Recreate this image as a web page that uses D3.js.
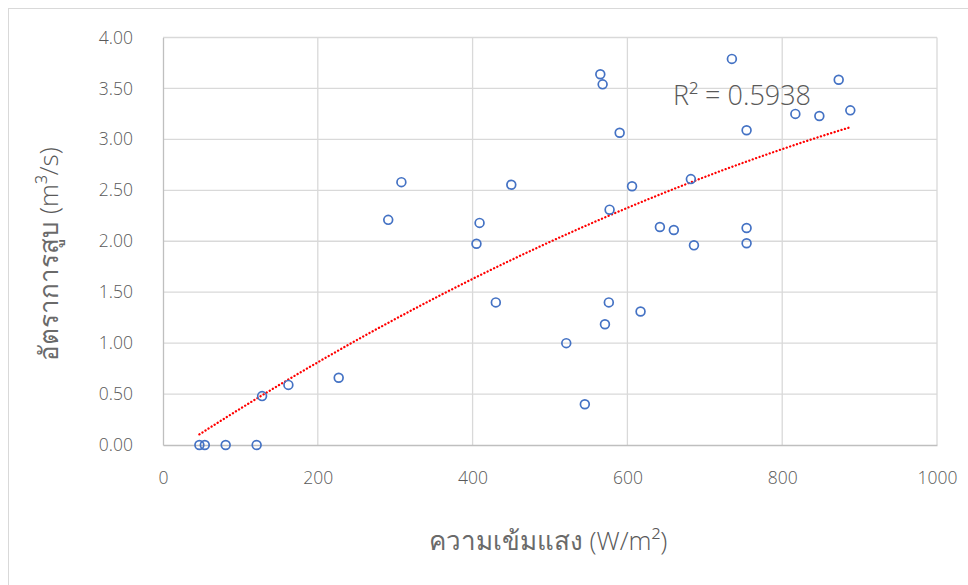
<!DOCTYPE html>
<html>
<head>
<meta charset="utf-8">
<script src="https://cdn.jsdelivr.net/npm/d3@7"></script>
<style>
  body { margin: 0; background: #fff; }
  text { font-family: "Open Sans", "Noto Sans", sans-serif; }
</style>
</head>
<body>
<div id="chart"></div>
<script>
// light intensity (W/m2) vs pumping rate (m3/s)
var intensity = [47, 54, 81, 121, 128, 162, 227, 291, 308, 405, 409, 430, 450,
    521, 545, 565, 568, 571, 576, 577, 590, 606, 617, 642, 660, 682, 686,
    735, 754, 754, 754, 817, 848, 873, 888];
var pumpRate = [0, 0, 0, 0, 0.48, 0.59, 0.66, 2.21, 2.58, 1.975, 2.18, 1.40, 2.555,
    1.00, 0.40, 3.64, 3.54, 1.185, 1.40, 2.31, 3.065, 2.54, 1.31, 2.14, 2.11, 2.61, 1.96,
    3.79, 3.09, 2.13, 1.98, 3.25, 3.23, 3.585, 3.285];

var xTicks = [0, 200, 400, 600, 800, 1000];
var yTicks = [0, 0.5, 1, 1.5, 2, 2.5, 3, 3.5, 4];
var r2Label = "R² = 0.5938";

var data = intensity.map((d, i) => ({ x: d, y: pumpRate[i] }));

var W = 968, H = 585;
var plot = { left: 163, top: 37.5, right: 937, bottom: 445 };

var svg = d3.select("#chart").append("svg")
    .attr("width", W)
    .attr("height", H);

// chart area border
svg.append("rect")
    .attr("x", 8.5).attr("y", 8.5)
    .attr("width", W + 20).attr("height", H + 20)
    .attr("fill", "#fff")
    .attr("stroke", "#d9d9d9");

var x = d3.scaleLinear().domain([0, 1000]).range([plot.left, plot.right]);
var y = d3.scaleLinear().domain([0, 4]).range([plot.bottom, plot.top]);

// gridlines
svg.append("g")
    .selectAll("line")
    .data(yTicks.slice(1))
    .enter()
    .append("line")
    .attr("x1", plot.left).attr("x2", plot.right)
    .attr("y1", d => y(d)).attr("y2", d => y(d))
    .attr("stroke", "#d9d9d9").attr("stroke-width", 1.3);

svg.append("g")
    .selectAll("line")
    .data(xTicks.slice(1))
    .enter()
    .append("line")
    .attr("x1", d => x(d)).attr("x2", d => x(d))
    .attr("y1", plot.top).attr("y2", plot.bottom)
    .attr("stroke", "#d9d9d9").attr("stroke-width", 1.3);

// axes
var xAxis = svg.append("g")
    .attr("transform", "translate(0," + plot.bottom + ")")
    .call(d3.axisBottom(x).tickValues(xTicks).tickSize(0).tickPadding(27).tickFormat(d3.format("d")));
var yAxis = svg.append("g")
    .attr("transform", "translate(" + plot.left + ",0)")
    .call(d3.axisLeft(y).tickValues(yTicks).tickSize(0).tickPadding(30).tickFormat(d3.format(".2f")));

[xAxis, yAxis].forEach(function (g) {
    g.select(".domain").attr("stroke", "#bfbfbf").attr("stroke-width", 1.3);
    g.selectAll(".tick text")
        .attr("fill", "#595959")
        .style("font-size", "17.5px")
        .style("font-family", "'Open Sans', sans-serif")
        .style("font-weight", 300);
});

// quadratic trendline, least squares on the data
function polyFit(pts) {
    var s = [0, 0, 0, 0, 0], t = [0, 0, 0];
    pts.forEach(function (p) {
        var xp = 1;
        for (var k = 0; k < 5; k++) { s[k] += xp; if (k < 3) t[k] += xp * p.y; xp *= p.x; }
    });
    var A = [[s[0], s[1], s[2], t[0]], [s[1], s[2], s[3], t[1]], [s[2], s[3], s[4], t[2]]];
    for (var i = 0; i < 3; i++) {
        for (var j = i + 1; j < 3; j++) {
            var f = A[j][i] / A[i][i];
            for (var k = i; k < 4; k++) A[j][k] -= f * A[i][k];
        }
    }
    var c = [0, 0, 0];
    for (var i = 2; i >= 0; i--) {
        var v = A[i][3];
        for (var k = i + 1; k < 3; k++) v -= A[i][k] * c[k];
        c[i] = v / A[i][i];
    }
    return c;
}
var coef = polyFit(data);
var xExt = d3.extent(intensity);
var trend = d3.range(0, 101).map(function (i) {
    var xv = xExt[0] + (xExt[1] - xExt[0]) * i / 100;
    return { x: xv, y: coef[0] + coef[1] * xv + coef[2] * xv * xv };
});

svg.append("path")
    .datum(trend)
    .attr("d", d3.line().x(d => x(d.x)).y(d => y(d.y)))
    .attr("fill", "none")
    .attr("stroke", "#ff0000")
    .attr("stroke-width", 2.3)
    .attr("stroke-dasharray", "0.1,3.5")
    .attr("stroke-linecap", "round");

// points
svg.append("g")
    .selectAll("circle")
    .data(data)
    .enter()
    .append("circle")
    .attr("cx", d => x(d.x))
    .attr("cy", d => y(d.y))
    .attr("r", 4.4)
    .attr("fill", "none")
    .attr("stroke", "#4472c4")
    .attr("stroke-width", 1.7);

// R squared label
svg.append("text")
    .attr("x", 742)
    .attr("y", 105)
    .attr("text-anchor", "middle")
    .attr("fill", "#595959")
    .style("font-size", "27px")
    .style("font-weight", 300)
    .text(r2Label);

// axis titles: thai part + unit part (unit drawn lighter)
function axisTitle(sel, thai, unit) {
    sel.attr("text-anchor", "middle")
        .style("font-size", "26px");
    sel.append("tspan").attr("fill", "#6a6a6a").style("font-weight", 400).text(thai);
    sel.append("tspan").attr("fill", "#595959").style("font-weight", 300).text(unit);
}

axisTitle(svg.append("text").attr("x", 548).attr("y", 550),
    "ความเข้มแสง ", "(W/m²)");

axisTitle(svg.append("text").attr("transform", "translate(58,254) rotate(-90)"),
    "อัตราการสูบ ", "(m³/s)");
</script>
</body>
</html>
